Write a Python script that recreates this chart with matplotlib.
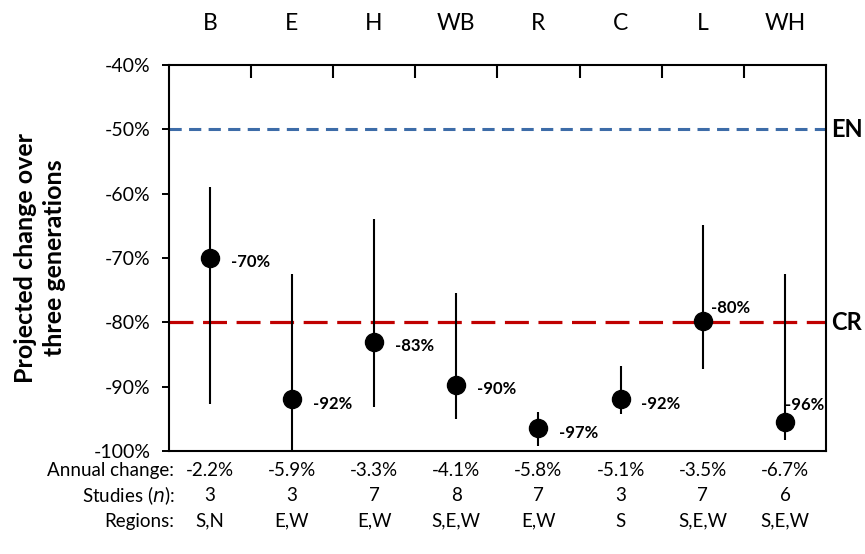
import matplotlib
matplotlib.use("Agg")
import matplotlib.pyplot as plt
import numpy as np

# species codes and projected change over three generations (%)
species = ["B", "E", "H", "WB", "R", "C", "L", "WH"]
change = [-70, -92, -83, -89.8, -96.5, -92, -79.8, -95.5]
upper = [-59, -72.5, -64, -75.4, -94, -86.8, -64.9, -72.5]
lower = [-92.7, -100, -93.2, -95, -99.2, -94.3, -87.3, -98.3]
point_labels = ["-70%", "-92%", "-83%", "-90%", "-97%", "-92%", "-80%", "-96%"]

annual = ["-2.2%", "-5.9%", "-3.3%", "-4.1%", "-5.8%", "-5.1%", "-3.5%", "-6.7%"]
studies = ["3", "3", "7", "8", "7", "3", "7", "6"]
regions = ["S,N", "E,W", "E,W", "S,E,W", "E,W", "S", "S,E,W", "S,E,W"]

en_level = -50
cr_level = -80

plt.rcParams["font.family"] = ["Lato", "DejaVu Sans"]

fig = plt.figure(figsize=(8.65, 5.54), dpi=100)
ax = fig.add_axes([0.195, 0.186, 0.76, 0.697])

x = np.arange(len(species))

# threshold lines
ax.axhline(en_level, color="#3D6CA8", lw=2.2, ls=(0, (4, 2.4)), zorder=1)
ax.axhline(cr_level, color="#C00000", lw=2.3, ls=(0, (7.5, 3)), zorder=1)

# error bars and points
yerr = [np.array(change) - np.array(lower), np.array(upper) - np.array(change)]
ax.errorbar(x, change, yerr=yerr, fmt="o", color="black", ms=13,
            elinewidth=1.5, capsize=0, zorder=3)

# point labels
offsets = [(15, -3), (15, -3), (15, -3), (15, -3), (15, -3), (15, -3), (6, 9), (0, 12)]
for xi, yi, lab, off in zip(x, change, point_labels, offsets):
    ax.annotate(lab, (xi, yi), xytext=off, textcoords="offset points",
                ha="left", va="center", fontsize=12, fontweight="bold")

ax.set_xlim(-0.5, len(species) - 0.5)
ax.set_ylim(-100, -40)
ax.set_yticks(np.arange(-100, -39, 10))
ax.set_yticklabels([f"{v}%" for v in range(-100, -39, 10)], fontsize=14)
ax.tick_params(axis="y", direction="out", length=5, width=1.4, pad=8)

# category labels on top, boundary ticks inside
ax.xaxis.tick_top()
ax.set_xticks(x)
ax.set_xticklabels(species, fontsize=16.5)
ax.tick_params(axis="x", which="major", length=0, pad=22)
ax.set_xticks(np.arange(0.5, len(species) - 0.5, 1), minor=True)
ax.tick_params(axis="x", which="minor", direction="in", length=9, width=1.5)

for sp in ax.spines.values():
    sp.set_linewidth(1.5)

ax.set_ylabel("Projected change over\nthree generations", fontsize=18,
              fontweight="bold", labelpad=20, linespacing=1.3)

# threshold labels
ax.text(1.008, en_level, "EN", transform=ax.get_yaxis_transform(),
        fontsize=17, fontweight="bold", va="center", ha="left")
ax.text(1.008, cr_level, "CR", transform=ax.get_yaxis_transform(),
        fontsize=17, fontweight="bold", va="center", ha="left")

# table under the plot
rows = [("Annual change:", annual), ("Studies ($n$):", studies), ("Regions:", regions)]
trans = ax.get_xaxis_transform()
for i, (name, vals) in enumerate(rows):
    yy = -0.05 - i * 0.066
    ax.text(-0.43, yy, name, transform=trans, ha="right", va="center",
            fontsize=13.5, clip_on=False)
    for xi, v in zip(x, vals):
        ax.text(xi, yy, v, transform=trans, ha="center", va="center",
                fontsize=13.5, clip_on=False)

fig.savefig("out.png", dpi=100)
